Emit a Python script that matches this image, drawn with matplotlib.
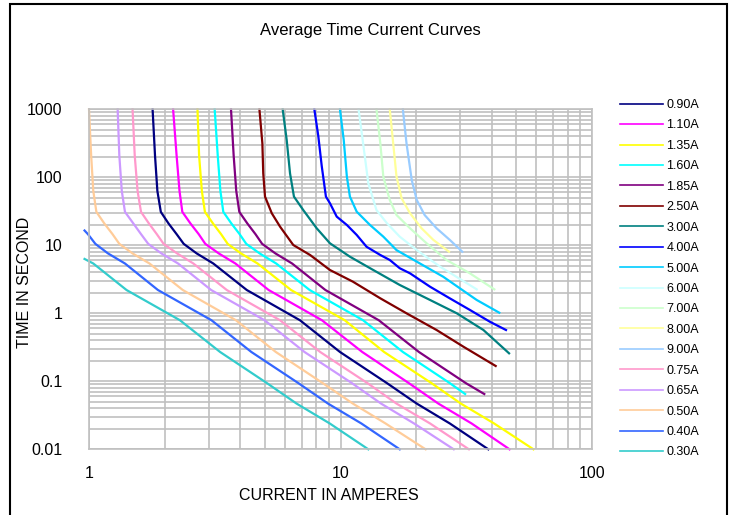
import matplotlib
matplotlib.use("Agg")
import matplotlib.pyplot as plt

plt.rcParams['font.family'] = ['Liberation Sans', 'DejaVu Sans']

# series labels and colours, in legend order
LABELS = ["0.90A", "1.10A", "1.35A", "1.60A", "1.85A", "2.50A", "3.00A", "4.00A", "5.00A",
          "6.00A", "7.00A", "8.00A", "9.00A", "0.75A", "0.65A", "0.50A", "0.40A", "0.30A"]
COLORS = ["#000080", "#FF00FF", "#FFFF00", "#00FFFF", "#800080", "#800000", "#008080", "#0000FF",
          "#00CCFF", "#CCFFFF", "#CCFFCC", "#FFFF99", "#99CCFF", "#FF99CC", "#CC99FF", "#FFCC99",
          "#3366FF", "#33CCCC"]

# current (A) and time (s) per series
T_LOW = [1000, 209, 63, 31, 21, 14.6, 10.5, 7.6, 5.4, 2.2, 0.79, 0.27, 0.094, 0.047, 0.024, 0.01]
T_MID = [1000, 209, 63, 31, 21, 14.6, 10.5, 7.6, 5.4, 2.2, 0.79, 0.27, 0.094, 0.065]

CURRENTS = [
    [1.79, 1.83, 1.87, 1.93, 2.07, 2.23, 2.38, 2.68, 3.12, 4.24, 6.90, 9.95, 15.3, 20.1, 27.2, 38.7],
    [2.16, 2.23, 2.29, 2.35, 2.53, 2.73, 2.90, 3.28, 3.82, 5.18, 8.44, 12.2, 18.7, 24.5, 33.2, 47.0],
    [2.70, 2.74, 2.81, 2.89, 3.11, 3.35, 3.56, 4.02, 4.68, 6.36, 10.4, 14.9, 23.0, 30.1, 40.8, 58.5],
    [3.16, 3.25, 3.33, 3.42, 3.68, 3.97, 4.22, 4.77, 5.55, 7.54, 12.3, 17.7, 27.2, 31.3],
    [3.67, 3.76, 3.85, 3.96, 4.26, 4.59, 4.88, 5.51, 6.42, 8.71, 14.2, 20.5, 31.5, 37.3],
    [4.76, 4.89, 4.93, 5.01, 5.33, 5.75, 6.49, 7.57, 9.08, 11.2, 14.4, 18.3, 24.1, 30.8, 41.4],
    [5.89, 6.11, 6.30, 6.53, 7.11, 8.04, 9.08, 10.9, 13.5, 17.2, 22.7, 29.0, 37.0, 46.8],
    [7.87, 8.16, 8.42, 8.75, 9.08, 9.66, 10.6, 11.6, 12.7, 14.4, 15.7, 17.2, 18.9, 22.7, 27.2, 32.7, 39.3, 45.5],
    [9.95, 10.3, 10.6, 10.9, 11.6, 13.1, 14.8, 16.7, 20.7, 25.6, 34.8, 42.8],
    [11.8, 12.3, 12.9, 13.9, 15.3, 17.2, 20.1, 24.9, 34.8],
    [13.9, 14.4, 14.8, 15.7, 16.7, 18.9, 22.0, 26.4, 32.7, 40.9],
    [15.7, 16.2, 16.7, 17.5, 18.9, 21.0, 23.4, 27.0],
    [17.7, 18.3, 19.2, 20.1, 21.6, 24.1, 27.2, 30.5],
    [1.49, 1.52, 1.56, 1.61, 1.73, 1.86, 1.98, 2.24, 2.60, 3.53, 5.75, 8.30, 12.8, 16.7, 22.7, 32.4],
    [1.30, 1.32, 1.35, 1.39, 1.50, 1.61, 1.72, 1.94, 2.26, 3.06, 4.99, 7.19, 11.1, 14.5, 19.6, 28.2],
    [1.00, 1.02, 1.04, 1.07, 1.15, 1.24, 1.32, 1.49, 1.74, 2.36, 3.84, 5.53, 8.5, 11.2, 15.1, 21.8],
    [0.96, 0.99, 1.06, 1.19, 1.39, 1.88, 3.07, 4.42, 6.8, 8.92, 12.1, 17.2],
    [0.96, 1.04, 1.41, 2.30, 3.32, 5.1, 6.69, 9.06, 12.9],
]
TIMES = [
    T_LOW, T_LOW, T_LOW, T_MID, T_MID,
    [1000, 316, 114, 52, 29.6, 18.8, 10.1, 7.2, 4.33, 2.92, 1.66, 1.0, 0.568, 0.323, 0.168],
    [1000, 354, 114, 52, 33, 17.8, 10.7, 6.8, 4.33, 2.61, 1.57, 1.0, 0.568, 0.258],
    [1000, 405, 147, 52, 41.5, 26.4, 19.9, 14.2, 9.5, 7.2, 6.08, 4.6, 3.87, 2.46, 1.66, 1.12, 0.75, 0.568],
    [1000, 354, 102, 52, 31.2, 19.9, 13.4, 8.5, 5.4, 3.45, 1.57, 1.02],
    [1000, 316, 81.6, 33, 21.1, 13.4, 8.5, 4.84, 2.25],
    [1000, 316, 102, 46.4, 27.9, 17.8, 10.7, 6.08, 3.87, 2.25],
    [1000, 316, 102, 49, 29.6, 17.8, 12.0, 8.05],
    [1000, 316, 91, 46.4, 27.9, 17.8, 12.0, 8.05],
    T_LOW, T_LOW, T_LOW,
    [16.5, 14.6, 10.5, 7.6, 5.4, 2.2, 0.79, 0.27, 0.094, 0.047, 0.024, 0.01],
    [6.3, 5.4, 2.2, 0.79, 0.27, 0.094, 0.047, 0.024, 0.01],
]

X_TICKS = [1, 10, 100]
X_TICK_LABELS = ["1", "10", "100"]
Y_TICKS = [0.01, 0.1, 1, 10, 100, 1000]
Y_TICK_LABELS = ["0.01", "0.1", "1", "10", "100", "1000"]

W, H = 733, 515
fig = plt.figure(figsize=(W / 100, H / 100), dpi=100)
ax = fig.add_axes([89 / W, 1 - 449.3 / H, (592 - 89) / W, (449.3 - 109.3) / H])

for cur, t, lab, col in zip(CURRENTS, TIMES, LABELS, COLORS):
    ax.plot(cur, t, color=col, lw=1.6, label=lab, clip_on=False)

ax.set_xscale('log')
ax.set_yscale('log')
ax.set_xlim(1, 100)
ax.set_ylim(0.01, 1000)
ax.set_xticks(X_TICKS, X_TICK_LABELS)
ax.set_yticks(Y_TICKS, Y_TICK_LABELS)
ax.grid(which='both', color='#C0C0C0', lw=1.2)
ax.set_axisbelow(True)
ax.tick_params(which='both', length=0, labelsize=11.5)
ax.tick_params(axis='y', pad=19)
ax.tick_params(axis='x', pad=12)
for s in ax.spines.values():
    s.set_color('#C0C0C0')
    s.set_linewidth(1.2)

fig.text(370 / W, 1 - 30 / H, "Average Time Current Curves", ha='center', va='center', fontsize=12)
fig.text(25 / W, 1 - 282 / H, "TIME IN SECOND", rotation=90, ha='center', va='center', fontsize=11.5)
fig.text(329 / W, 1 - 495 / H, "CURRENT IN AMPERES", ha='center', va='center', fontsize=11.5)

handles, labels = ax.get_legend_handles_labels()
leg = fig.legend(handles, labels, loc='upper left', bbox_to_anchor=(615 / W, 1 - 94 / H),
                 frameon=False, fontsize=9, handlelength=3.4, handletextpad=0.3,
                 labelspacing=0.675, borderaxespad=0)
for ln in leg.get_lines():
    ln.set_linewidth(1.2)

# outer frame of the chart
fig.add_artist(plt.Rectangle((10 / W, -0.02), (727 - 10) / W, 1 - 4 / H + 0.02,
                             transform=fig.transFigure, fill=False, ec='black', lw=1.5))

fig.savefig("out.png", dpi=100)
